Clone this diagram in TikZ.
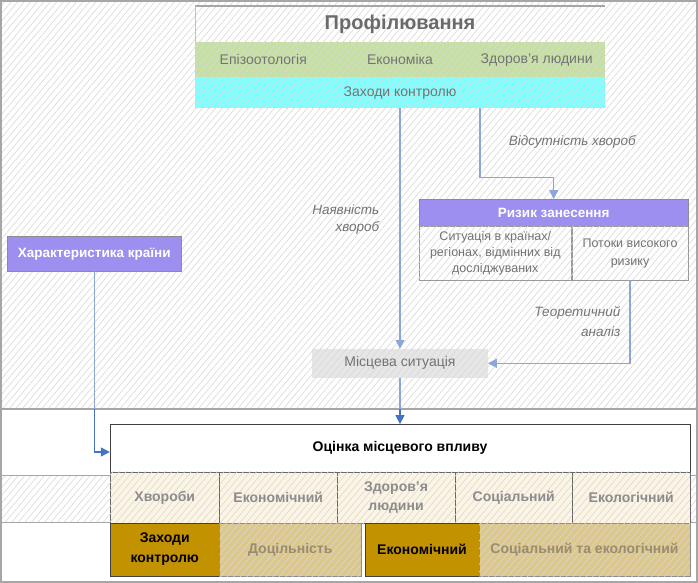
\documentclass[tikz,border=0pt]{standalone}
\usepackage{fontspec}
\defaultfontfeatures{}
\setmainfont{Liberation Sans}
\usetikzlibrary{patterns.meta,arrows.meta,calc}
\definecolor{framec}{HTML}{A6A6A6}
\definecolor{hatchc}{HTML}{D8D8D8}
\definecolor{greenb}{HTML}{C6E0A4}
\definecolor{cyanb}{HTML}{80FFFF}
\definecolor{purpleb}{HTML}{9D8FF0}
\definecolor{localb}{HTML}{E6E6E6}
\definecolor{arrowL}{HTML}{8EA5D8}
\definecolor{arrowD}{HTML}{4472C4}
\definecolor{beige}{HTML}{FCF5E4}
\definecolor{gold}{HTML}{C39200}
\definecolor{tan}{HTML}{DCC78C}
\definecolor{txtgray}{HTML}{737373}
\definecolor{tantxt}{HTML}{9A8C6E}
\tikzset{
  hatch/.style={postaction={pattern={Lines[angle=50,distance=5pt,line width=0.6pt]},pattern color=hatchc}},
  box/.style={inner sep=0pt, align=center},
  band/.style={box, text=txtgray, font=\fontsize{14}{17}\selectfont},
  purplebox/.style={box, fill=purpleb, draw=black!45, text=white, font=\fontsize{13.5}{16}\selectfont\bfseries},
  riskcell/.style={box, fill=white, hatch, draw=black!40, text=txtgray},
  lbl/.style={inner sep=0pt, text=txtgray, font=\fontsize{13.5}{17}\itshape, align=right},
  arrL/.style={draw=arrowL, line width=1.4pt, -{Triangle[length=9pt,width=9pt]}},
  lineL/.style={draw=arrowL, line width=1.4pt},
  arrD/.style={draw=arrowD, line width=1.4pt, -{Triangle[length=9pt,width=9pt]}},
  cellB/.style={box, fill=beige, hatch, draw=black!60, text=black!45, font=\fontsize{14}{19}\selectfont\bfseries, minimum height=51.3pt},
  goldc/.style={box, fill=gold, draw=black!75, text=black, font=\fontsize{14}{20}\selectfont\bfseries, minimum height=53pt},
  tanc/.style={box, fill=tan, hatch, draw=black!45, text=tantxt, font=\fontsize{14}{20}\selectfont\bfseries, minimum height=53pt}
}
\begin{document}
\begin{tikzpicture}[x=1pt,y=-1pt]
\useasboundingbox (0,0) rectangle (698,583);
\fill[white] (0,0) rectangle (698,583);
% hatched background regions
\path[hatch] (1.5,1.5) rectangle (696.5,409);
\path[hatch] (1.5,475) rectangle (696.5,522);
\draw[framec, line width=1.2pt] (1,409) -- (697,409);
\draw[framec, line width=1pt] (1,475) -- (697,475);
\draw[framec, line width=1pt] (1,522) -- (697,522);
\draw[framec, line width=1.6pt] (1,1) rectangle (697,582);

% Profiling block
\node[box, minimum width=410pt, minimum height=36pt, text=black!58, font=\fontsize{20}{24}\selectfont\bfseries] (prof) at (400,24) {Профілювання};
\draw[framec, line width=2pt] (prof.north west) -- (prof.north east);
\draw[framec!70, line width=0.6pt] (prof.north west) -- (prof.south west);
\node[band, fill=greenb, hatch, minimum width=136.67pt, minimum height=35.3pt] (epi) at (263.33,59.6) {Епізоотологія};
\node[band, fill=greenb, hatch, minimum width=136.67pt, minimum height=35.3pt] (econ) at (400,59.6) {Економіка};
\node[band, fill=greenb, hatch, minimum width=136.67pt, minimum height=35.3pt] (health) at (536.67,59.6) {Здоров'я людини};
\node[band, fill=cyanb, hatch, minimum width=410pt, minimum height=31pt] (ctrl) at (400,92.8) {Заходи контролю};

% Risk block
\node[purplebox, minimum width=269.3pt, minimum height=27.4pt] (risk) at (553.7,213) {Ризик занесення};
\node[riskcell, minimum width=152.7pt, minimum height=53.3pt, font=\fontsize{12.5}{16}\selectfont] (cellL) at (495.3,253.3) {Ситуація в країнах/\\регіонах, відмінних від\\досліджуваних};
\node[riskcell, minimum width=116.6pt, minimum height=53.3pt, font=\fontsize{12.5}{17.5}\selectfont] (cellR) at (630,253.3) {Потоки високого\\ризику};

% Local situation
\node[box, fill=localb, hatch, text=txtgray, font=\fontsize{14}{17}\selectfont, minimum width=175.4pt, minimum height=28.7pt] (local) at (400,363.3) {Місцева ситуація};

% Country characteristics
\node[purplebox, minimum width=173.7pt, minimum height=34.3pt] (char) at (94.2,253.8) {Характеристика країни};

% Local impact assessment
\node[box, fill=white, draw=black!75, minimum width=580pt, minimum height=47.4pt, font=\fontsize{14}{17}\selectfont\bfseries] (ocinka) at (400,448) {Оцінка місцевого впливу};

% Row 2
\node[cellB, minimum width=109.5pt] (r1) at (164.75,497.35) {Хвороби};
\node[cellB, minimum width=117.5pt] (r2) at (278.25,497.35) {Економічний};
\node[cellB, minimum width=118pt] (r3) at (396,497.35) {Здоров'я\\людини};
\node[cellB, minimum width=117.5pt] (r4) at (513.75,497.35) {Соціальний};
\node[cellB, minimum width=117.5pt] (r5) at (631.25,497.35) {Екологічний};

% Row 3
\node[goldc, minimum width=109.5pt] (s1) at (164.75,549.5) {Заходи\\контролю};
\node[tanc, minimum width=141.5pt] (s2) at (290.25,549.5) {Доцільність};
\node[goldc, minimum width=114pt] (s3) at (422,549.5) {Економічний};
\node[tanc, minimum width=211pt] (s4) at (584.5,549.5) {Соціальний та екологічний};

% connectors
\draw[arrL] (ctrl.south) -- (local.north);
\draw[arrL] ([xshift=80pt]ctrl.south) -- ++(0,69) -| (risk.north);
\draw[arrL] (cellR.south) |- (local.east);
\coordinate (cut) at (0,409);
\draw[arrD] (local.south) -- (ocinka.north);
\draw[lineL] (local.south) -- (local.south |- cut);
\draw[arrD] (char.south) |- ([yshift=-4pt]ocinka.west);
\draw[lineL] (char.south) -- (char.south |- cut);

% labels
\node[lbl, anchor=east, font=\fontsize{13.5}{17}\selectfont\itshape] (lab1) at (379.5,220) {Наявність\\хвороб};
\node[lbl, font=\fontsize{13.5}{17}\selectfont\itshape] (lab2) at (572.3,141.7) {Відсутність хвороб};
\node[lbl, anchor=east, font=\fontsize{13.5}{20}\selectfont\itshape] (lab3) at (620.5,321.7) {Теоретичний\\аналіз};
\end{tikzpicture}
\end{document}
